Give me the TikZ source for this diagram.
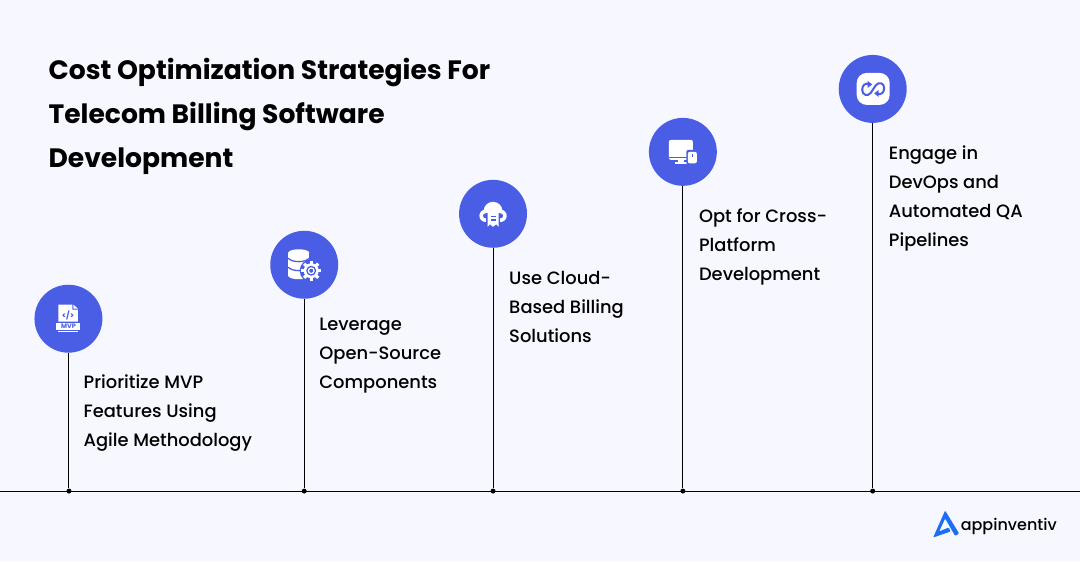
\documentclass[tikz,border=0pt]{standalone}
\usepackage{tikz}
\usepackage{xcolor}
\usepackage{fontspec}
\setmainfont{Poppins}[UprightFont=* Medium,BoldFont=* Bold]

\begin{document}
\begin{tikzpicture}[x=1pt, y=-1pt]

  \definecolor{my_back}{RGB}{247,248,255}
  \definecolor{my_blue}{RGB}{74,93,229}
  \definecolor{my_logo}{RGB}{30,110,245}

  \tikzstyle{circ} = [circle, fill=my_blue, minimum size=68pt, inner sep=0pt]
  \tikzstyle{dot} = [circle, fill=black, minimum size=5pt, inner sep=0pt]
  \tikzstyle{label} = [anchor=north west, align=left, inner sep=0pt, font=\fontsize{17.9}{29}\selectfont]
  \tikzstyle{stem} = [draw=black, line width=1pt]
  \tikzstyle{icon} = [fill=white, draw=none]
  \tikzstyle{iconb} = [fill=my_blue, draw=none]

  \fill [my_back] (0,0) rectangle (1080,562);

  % title
  \node [anchor=north west, align=left, inner sep=0pt, font=\fontsize{26.6}{44}\bfseries\selectfont] (title) at (48,58) {Cost Optimization Strategies For\\Telecom Billing Software\\Development};

  % axis
  \coordinate (left) at (0,491.5);
  \coordinate (right) at (1080,491.5);
  \draw [black, line width=1pt] (left) -- (right);

  \node [circ] (mvp) at (68,319) {};
  \node [circ] (open) at (304,265) {};
  \node [circ] (cloud) at (493,214) {};
  \node [circ] (cross) at (683,152) {};
  \node [circ] (devops) at (873,89) {};

  \node [dot] (mvp_dot) at (68.5,491.5) {};
  \node [dot] (open_dot) at (304,491.5) {};
  \node [dot] (cloud_dot) at (493,491.5) {};
  \node [dot] (cross_dot) at (683,491.5) {};
  \node [dot] (devops_dot) at (873,491.5) {};

  \path [stem] (mvp_dot |- mvp.south) -- (mvp_dot);
  \path [stem] (open) -- (open_dot);
  \path [stem] (cloud) -- (cloud_dot);
  \path [stem] (cross) -- (cross_dot);
  \path [stem] (devops) -- (devops_dot);

  \node [label] (mvp_text) at (83,375) {Prioritize MVP\\Features Using\\Agile Methodology};
  \node [label] (open_text) at (319,318) {Leverage\\Open-Source\\Components};
  \node [label] (cloud_text) at (509,271) {Use Cloud-\\Based Billing\\Solutions};
  \node [label] (cross_text) at (699,209) {Opt for Cross-\\Platform\\Development};
  \node [label] (devops_text) at (889,146) {Engage in\\DevOps and\\Automated QA\\Pipelines};

  % mvp icon
  \fill [icon] (58,305) -- (72,305) -- (77.5,310) -- (77.5,322) -- (58,322) -- cycle;
  \fill [iconb] (72,305) -- (72,310) -- (77.5,310) -- cycle;
  \fill [icon] (73,305) -- (77.5,309) -- (73,309) -- cycle;
  \node [text=my_blue, inner sep=0pt, font=\fontsize{8}{8}\bfseries\selectfont] (mvp_code) at (67.5,316) {</>};
  \fill [icon] (56,323) rectangle (80,330);
  \node [text=my_blue, inner sep=0pt, font=\fontsize{6.5}{6}\bfseries\selectfont] (mvp_name) at (68,326.5) {MVP};
  \fill [icon] (58,331) rectangle (78,332.5);

  % database icon
  \fill [icon] (298.5,253) ellipse (10.5 and 3.5);
  \fill [icon] (288,253) rectangle (309,276);
  \fill [icon] (298.5,276) ellipse (10.5 and 3.5);
  \draw [my_blue, line width=1.3pt] (288,258.5) .. controls (292,263) and (305,263) .. (309,258.5);
  \draw [my_blue, line width=1.3pt] (288,267.5) .. controls (292,272) and (305,272) .. (309,267.5);
  \fill [iconb] (311,271) circle (11.5);
  \fill [icon] (311,271) circle (7.5);
  \foreach \ang in {0,45,...,315} {
    \fill [icon, rotate around={\ang:(311,271)}] (309.4,261) rectangle (312.6,266);
  }
  \fill [iconb] (311,271) circle (5);
  \fill [icon] (311,271) circle (3.5);
  \fill [iconb] (311,271) circle (2);

  % cloud icon
  \fill [icon] (493,211.5) circle (9.5);
  \fill [icon] (485.5,216) circle (6.2);
  \fill [icon] (500.5,216) circle (6.2);
  \fill [iconb] (485.5,216) circle (2.5);
  \fill [iconb] (500.5,216) circle (2.5);
  \fill [iconb] (486,213) rectangle (500,229);
  \fill [icon] (487.5,213) -- (498.5,213) -- (498.5,227) -- (496,224.5) -- (493,227) -- (490,224.5) -- (487.5,227) -- cycle;
  \fill [iconb] (490.5,216) rectangle (495.5,217.5);
  \fill [iconb] (490.5,219.5) rectangle (495.5,221);

  % monitor icon
  \fill [icon, rounded corners=2pt] (669,140) rectangle (693,160);
  \fill [iconb] (669,156.7) rectangle (693,157.4);
  \fill [icon] (678,160) rectangle (684,162);
  \fill [icon] (675,162) rectangle (687,164);
  \fill [iconb, rounded corners=2pt] (686.5,150) rectangle (698.5,165);
  \fill [icon, rounded corners=2pt] (688,152) rectangle (697,163.5);
  \fill [iconb] (692,154) rectangle (693,157);

  % loop icon
  \fill [icon, rounded corners=10pt] (857,73) rectangle (890,105);
  \draw [my_blue, line width=2pt] (870.5,84.5) .. controls (865,82) and (862.5,86) .. (862.5,90) .. controls (862.5,95) and (868,97) .. (871,93) -- (876,85.5) .. controls (879,81.5) and (884.5,83) .. (884.5,88) .. controls (884.5,92) and (882,96) .. (876.5,93.5);
  \fill [my_blue] (868,81) -- (872.5,84.5) -- (868,88) -- cycle;
  \fill [my_blue] (879,90) -- (874.5,93.5) -- (879,97) -- cycle;

  % logo
  \fill [my_logo, rounded corners=1pt] (945.5,511) -- (959.5,534) -- (955.5,536.5) -- (945.5,519) -- (939.5,532) -- (949,528) -- (951,532) -- (933.5,538) -- cycle;
  \node [anchor=base west, inner sep=0pt, font=\fontsize{16}{20}\selectfont] (logo) at (961,530.5) {appinventiv};

\end{tikzpicture}
\end{document}
